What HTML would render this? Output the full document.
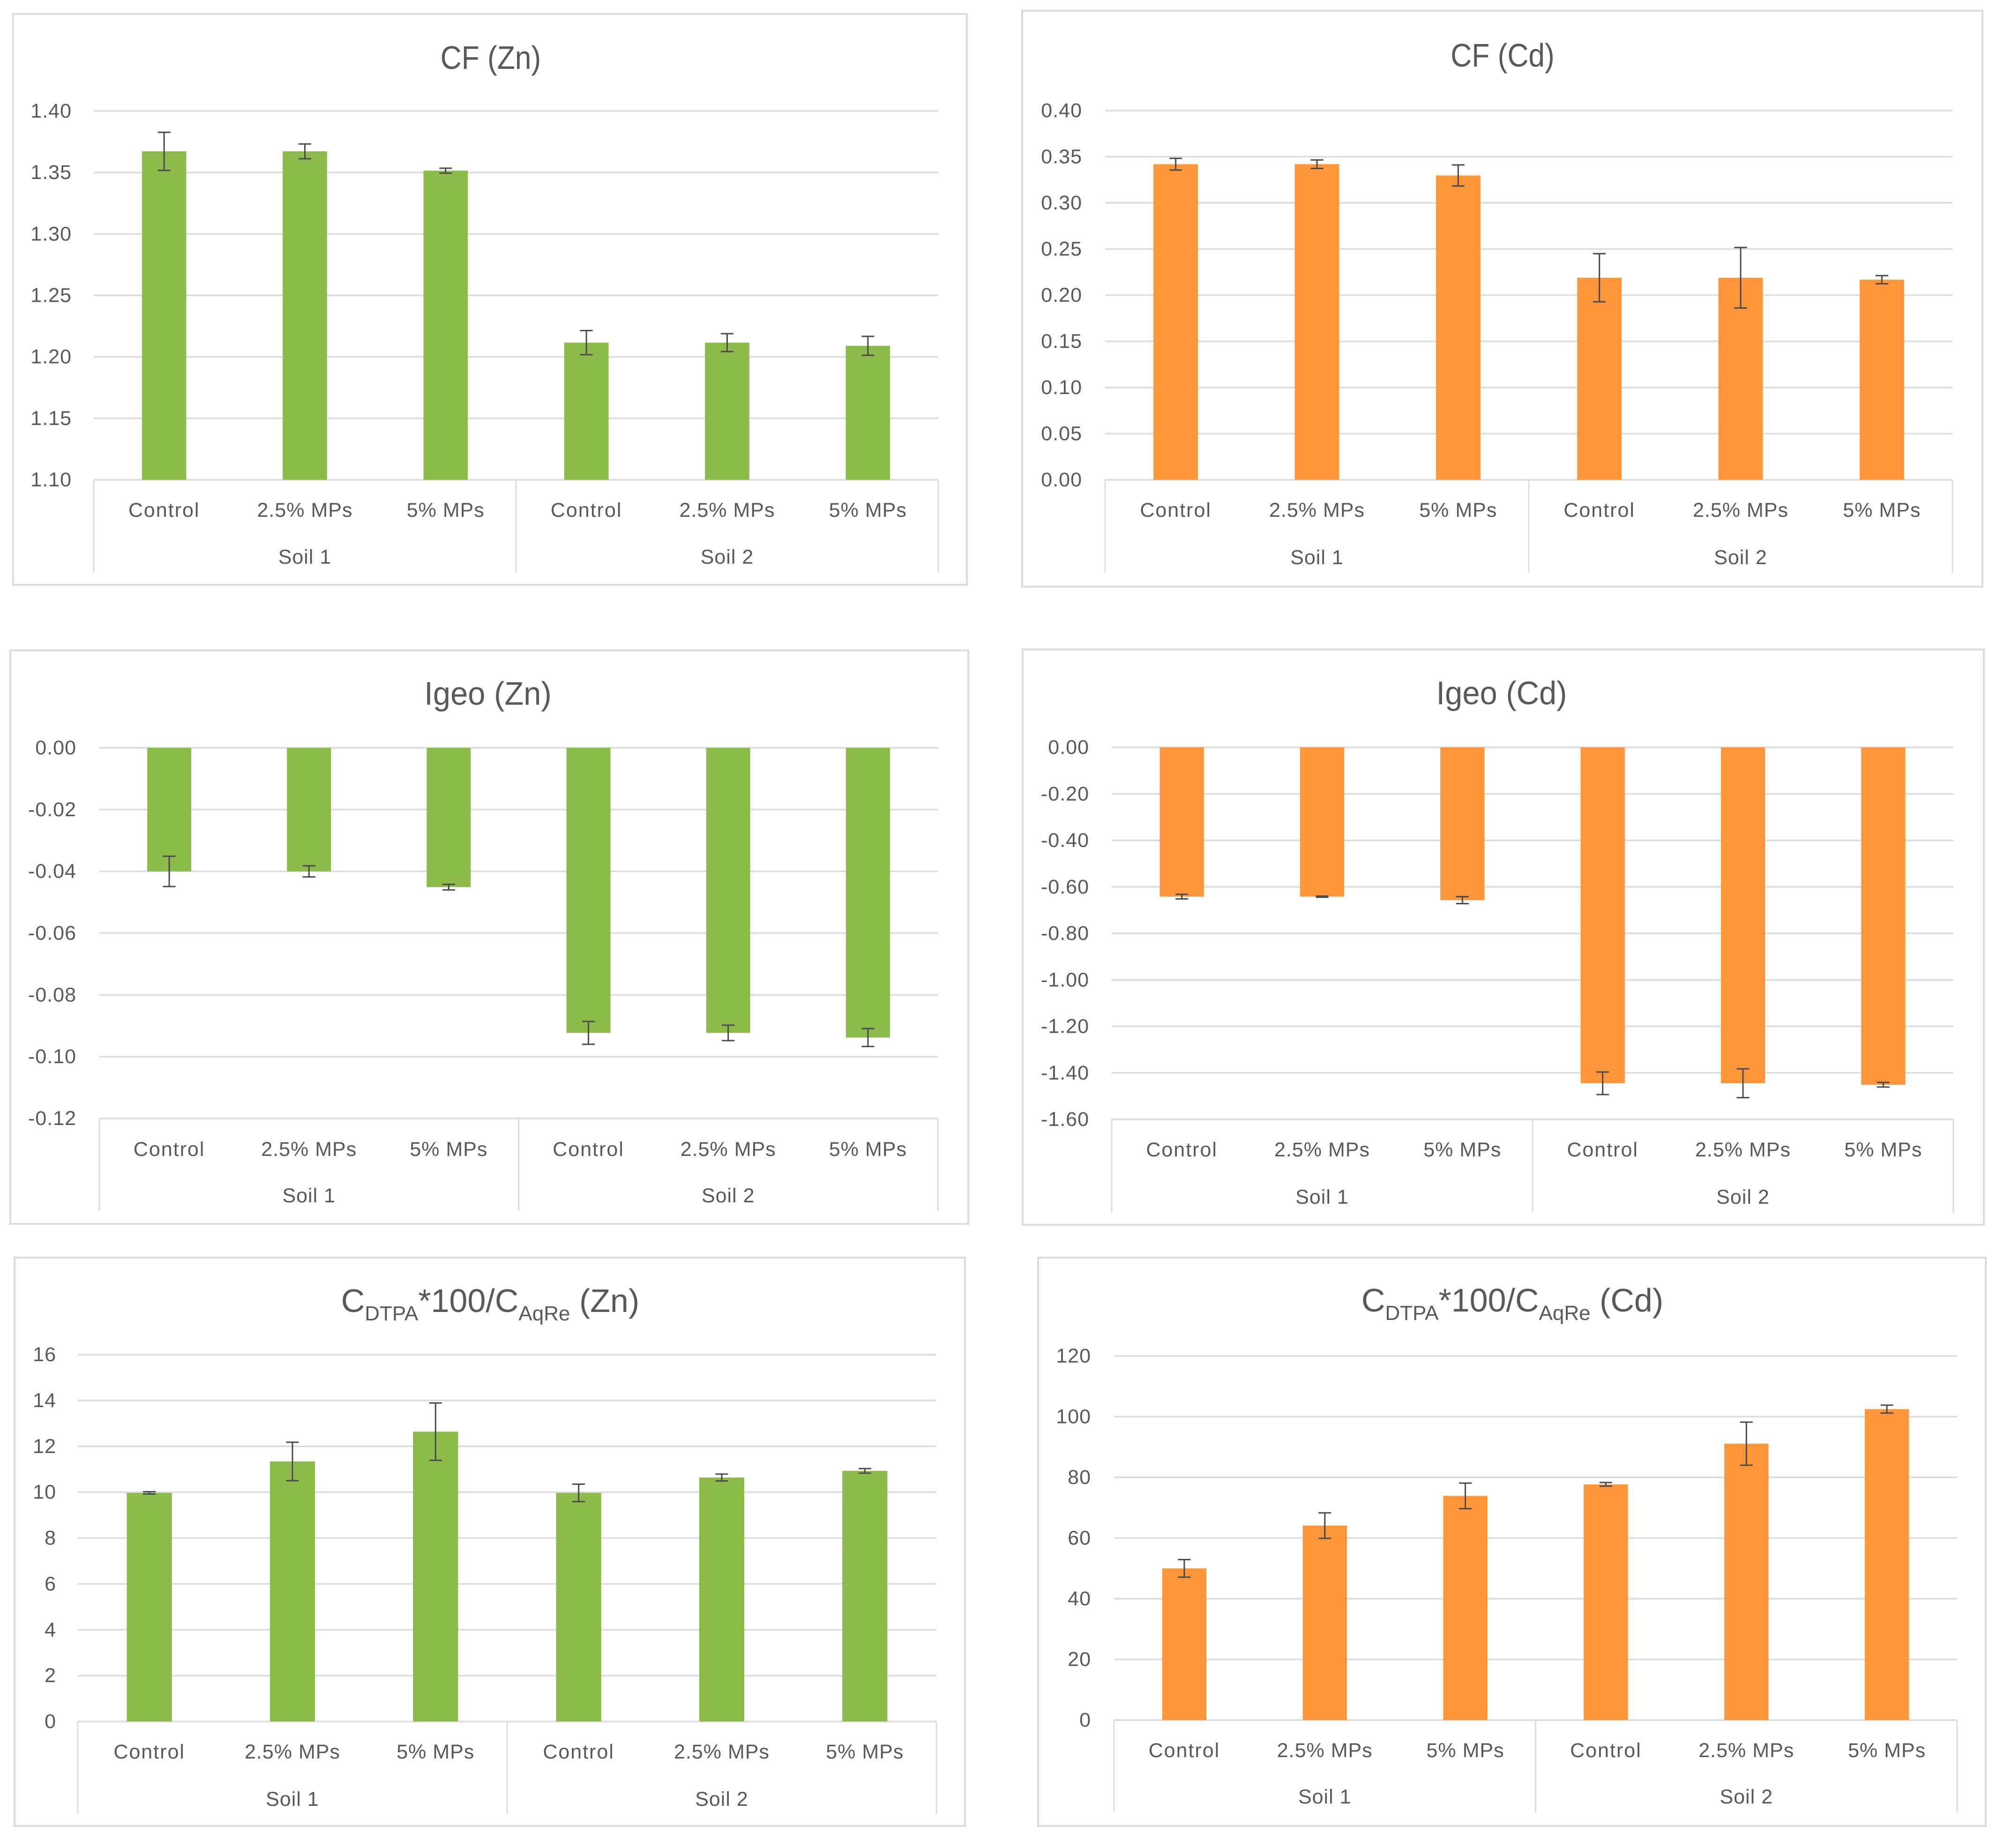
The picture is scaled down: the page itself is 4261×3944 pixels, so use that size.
<!DOCTYPE html>
<html lang="en">
<head>
<meta charset="utf-8">
<title>CF, Igeo and DTPA charts for Zn and Cd</title>
<style>
html,body{margin:0;padding:0;background:#fff;width:4261px;height:3944px;overflow:hidden}
svg{display:block;font-family:"Liberation Sans",sans-serif;fill:#595959}
.frame{fill:#fff;stroke:#dcdcdc;stroke-width:4}
.title{font-size:70px;text-anchor:middle;fill:#595959}
.sub{font-size:44px}
.tick{font-size:43px;letter-spacing:1px;text-anchor:end;fill:#595959}
.cat,.group{font-size:43px;letter-spacing:1px;text-anchor:middle;fill:#595959}
</style>
</head>
<body>
<svg id="figure" xmlns="http://www.w3.org/2000/svg" width="4261" height="3944" viewBox="0 0 4261 3944">
  <rect x="0" y="0" width="4261" height="3944" fill="#ffffff"/>

  <g id="chart-cf-zn">
    <rect class="frame" x="28" y="30" width="2035" height="1218"/>
    <text class="title" transform="translate(1047 147) scale(.89 1)">CF (Zn)</text>
  </g>

  <g id="chart-cf-cd">
    <rect class="frame" x="2181" y="23" width="2049" height="1229"/>
    <text class="title" transform="translate(3206 142) scale(.89 1)">CF (Cd)</text>
  </g>

  <g id="chart-igeo-zn">
    <rect class="frame" x="22" y="1388" width="2044" height="1224"/>
    <text class="title" transform="translate(1041 1504) scale(.956 1)">Igeo (Zn)</text>
  </g>

  <g id="chart-igeo-cd">
    <rect class="frame" x="2182" y="1386" width="2051" height="1228"/>
    <text class="title" transform="translate(3204 1503) scale(.956 1)">Igeo (Cd)</text>
  </g>

  <g id="chart-dtpa-zn">
    <rect class="frame" x="31" y="2684" width="2028" height="1213"/>
    <text class="title" x="1046" y="2800">C<tspan class="sub" dy="18">DTPA</tspan><tspan dy="-18">*100/C</tspan><tspan class="sub" dy="18">AqRe</tspan><tspan dy="-18"> (Zn)</tspan></text>
  </g>

  <g id="chart-dtpa-cd">
    <rect class="frame" x="2215" y="2684" width="2022" height="1213"/>
    <text class="title" x="3227" y="2799">C<tspan class="sub" dy="18">DTPA</tspan><tspan dy="-18">*100/C</tspan><tspan class="sub" dy="18">AqRe</tspan><tspan dy="-18"> (Cd)</tspan></text>
  </g>
</svg>

<script>
// Shared categories
const categories = ["Control", "2.5% MPs", "5% MPs", "Control", "2.5% MPs", "5% MPs"];
const groups = ["Soil 1", "Soil 2"];

// CF (Zn)
const cfZnTicks = ["1.40", "1.35", "1.30", "1.25", "1.20", "1.15", "1.10"];
const cfZnValues = [1.3672, 1.3672, 1.3515, 1.2116, 1.2116, 1.209];
const cfZnErrors = [0.0155, 0.006, 0.002, 0.0098, 0.0073, 0.0077];

// CF (Cd)
const cfCdTicks = ["0.40", "0.35", "0.30", "0.25", "0.20", "0.15", "0.10", "0.05", "0.00"];
const cfCdValues = [0.3419, 0.3419, 0.3297, 0.2189, 0.2189, 0.2168];
const cfCdErrors = [0.0063, 0.0046, 0.0114, 0.0261, 0.0328, 0.0044];

// Igeo (Zn)
const igeoZnTicks = ["0.00", "-0.02", "-0.04", "-0.06", "-0.08", "-0.10", "-0.12"];
const igeoZnValues = [-0.04, -0.04, -0.0451, -0.0923, -0.0923, -0.0938];
const igeoZnErrors = [0.0049, 0.0018, 0.0009, 0.0037, 0.0025, 0.0029];

// Igeo (Cd)
const igeoCdTicks = ["0.00", "-0.20", "-0.40", "-0.60", "-0.80", "-1.00", "-1.20", "-1.40", "-1.60"];
const igeoCdValues = [-0.642, -0.642, -0.657, -1.4446, -1.4446, -1.451];
const igeoCdErrors = [0.01, 0.0025, 0.015, 0.0485, 0.062, 0.01];

// CDTPA*100/CAqRe (Zn)
const dtpaZnTicks = ["16", "14", "12", "10", "8", "6", "4", "2", "0"];
const dtpaZnValues = [9.97, 11.34, 12.64, 9.97, 10.64, 10.93];
const dtpaZnErrors = [0.05, 0.84, 1.25, 0.38, 0.15, 0.1];

// CDTPA*100/CAqRe (Cd)
const dtpaCdTicks = ["120", "100", "80", "60", "40", "20", "0"];
const dtpaCdValues = [50.0, 64.1, 73.9, 77.7, 91.1, 102.5];
const dtpaCdErrors = [2.9, 4.2, 4.2, 0.6, 7.1, 1.3];

const SVG_NS = "http://www.w3.org/2000/svg";

function make(tag, parent, attrs) {
  const el = document.createElementNS(SVG_NS, tag);
  for (const key in attrs) el.setAttribute(key, attrs[key]);
  parent.appendChild(el);
  return el;
}

function drawChart(id, box, ticks, values, errors, color) {
  const root = document.getElementById(id);
  const tickNumbers = ticks.map(Number);
  const domainMax = Math.max.apply(null, tickNumbers);
  const domainMin = Math.min.apply(null, tickNumbers);

  // Axis functions
  const yAxis = function (v) {
    return box.top + (domainMax - v) / (domainMax - domainMin) * (box.bottom - box.top);
  };
  const step = (box.right - box.left) / categories.length;
  const xAxis = function (i) {
    return box.left + step * (i + 0.5);
  };
  const baseValue = Math.min(domainMax, Math.max(domainMin, 0));
  const barWidth = step * 0.315;

  // Gridlines and y tick labels
  ticks.forEach(function (label, i) {
    const v = tickNumbers[i];
    const grid = make("line", root, { x1: box.left, x2: box.right, y1: yAxis(v), y2: yAxis(v), stroke: "#dcdcdc", "stroke-width": 3.5 });
    
    
    const tick = make("text", root, { class: "tick", x: box.labelRight, y: yAxis(v) + 14 });
    
    
    tick.textContent = label;
  });

  // Multi-level category axis separators
  const perGroup = categories.length / groups.length;
  for (let g = 0; g <= groups.length; g++) {
    const sepX = box.left + step * perGroup * g;
    const sep = make("line", root, { x1: sepX, x2: sepX, y1: box.bottom, y2: box.axisEnd, stroke: "#dcdcdc", "stroke-width": 3 });
    
    
  }

  // Bars, error bars, category labels
  values.forEach(function (value, i) {
    const cx = xAxis(i);
    const y0 = yAxis(baseValue);
    const y1 = yAxis(value);
    const bar = make("rect", root, { x: cx - barWidth / 2, y: Math.min(y0, y1), width: barWidth, height: Math.abs(y1 - y0), fill: color });
    
    

    const hi = yAxis(value + errors[i]);
    const lo = yAxis(value - errors[i]);
    const stem = make("line", root, { x1: cx, x2: cx, y1: hi, y2: lo, stroke: "#4a4a4a", "stroke-width": 3 });
    
    
    const capTop = make("line", root, { x1: cx - 13.5, x2: cx + 13.5, y1: hi, y2: hi, stroke: "#4a4a4a", "stroke-width": 3 });
    
    
    const capBottom = make("line", root, { x1: cx - 13.5, x2: cx + 13.5, y1: lo, y2: lo, stroke: "#4a4a4a", "stroke-width": 3 });
    
    

    const cat = make("text", root, { class: "cat", x: cx, y: box.catY + 15 });
    
    
    cat.textContent = categories[i];
    if (categories[i] === "Control") cat.style.letterSpacing = "2px";
  });

  // Group labels
  groups.forEach(function (name, g) {
    const groupLabel = make("text", root, { class: "group", x: box.left + step * perGroup * (g + 0.5), y: box.groupY + 15 });
    
    
    groupLabel.textContent = name;
  });
}

const GREEN = "#8cbb4c";
const ORANGE = "#ff963b";

drawChart("chart-cf-zn",
  { left: 200, right: 2002, top: 237, bottom: 1024, axisEnd: 1222, labelRight: 153, catY: 1088, groupY: 1188 },
  cfZnTicks, cfZnValues, cfZnErrors, GREEN);
drawChart("chart-cf-cd",
  { left: 2358, right: 4166, top: 236, bottom: 1024, axisEnd: 1222, labelRight: 2309, catY: 1088, groupY: 1189 },
  cfCdTicks, cfCdValues, cfCdErrors, ORANGE);
drawChart("chart-igeo-zn",
  { left: 212, right: 2001, top: 1596, bottom: 2387, axisEnd: 2584, labelRight: 163, catY: 2452, groupY: 2551 },
  igeoZnTicks, igeoZnValues, igeoZnErrors, GREEN);
drawChart("chart-igeo-cd",
  { left: 2372, right: 4168, top: 1595, bottom: 2389, axisEnd: 2588, labelRight: 2324, catY: 2453, groupY: 2554 },
  igeoCdTicks, igeoCdValues, igeoCdErrors, ORANGE);
drawChart("chart-dtpa-zn",
  { left: 166, right: 1998, top: 2891, bottom: 3674, axisEnd: 3872, labelRight: 120, catY: 3738, groupY: 3839 },
  dtpaZnTicks, dtpaZnValues, dtpaZnErrors, GREEN);
drawChart("chart-dtpa-cd",
  { left: 2377, right: 4176, top: 2894, bottom: 3671, axisEnd: 3868, labelRight: 2328, catY: 3735, groupY: 3834 },
  dtpaCdTicks, dtpaCdValues, dtpaCdErrors, ORANGE);
</script>
</body>
</html>
